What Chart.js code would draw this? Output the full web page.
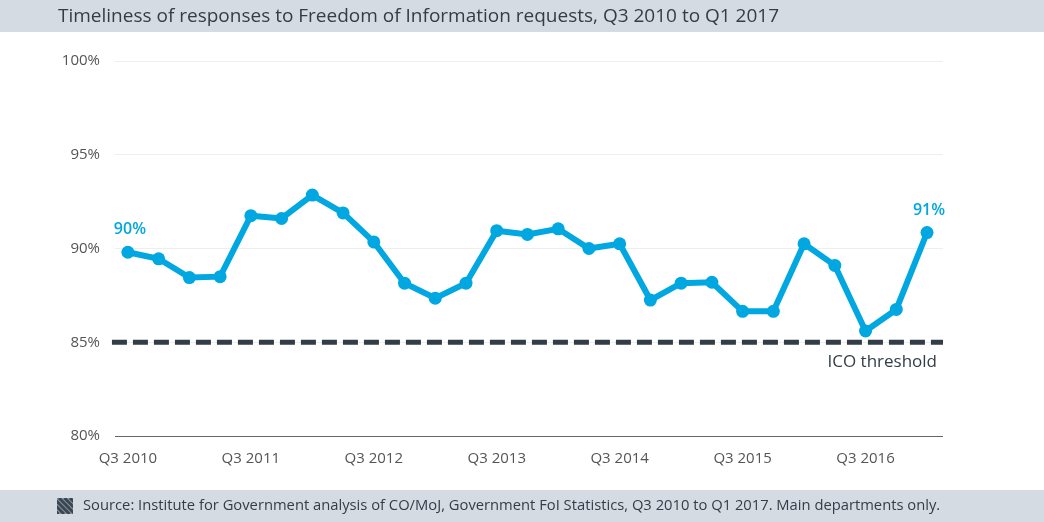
<!DOCTYPE html>
<html>
<head>
<meta charset="utf-8">
<script src="https://cdn.jsdelivr.net/npm/chart.js@4/dist/chart.umd.min.js"></script>
<style>
  html, body { margin: 0; padding: 0; background: #fff; }
  #wrap { width: 1044px; height: 522px; position: relative; }
</style>
</head>
<body>
<div id="wrap"><canvas id="c" width="1044" height="522"></canvas></div>
<script>
const quarters = [
  "Q3 2010","Q4 2010","Q1 2011","Q2 2011",
  "Q3 2011","Q4 2011","Q1 2012","Q2 2012",
  "Q3 2012","Q4 2012","Q1 2013","Q2 2013",
  "Q3 2013","Q4 2013","Q1 2014","Q2 2014",
  "Q3 2014","Q4 2014","Q1 2015","Q2 2015",
  "Q3 2015","Q4 2015","Q1 2016","Q2 2016",
  "Q3 2016","Q4 2016","Q1 2017"
];
const timeliness = [
  89.8, 89.45, 88.45, 88.5,
  91.75, 91.6, 92.85, 91.9,
  90.35, 88.15, 87.35, 88.15,
  90.95, 90.75, 91.05, 90.0,
  90.25, 87.25, 88.15, 88.2,
  86.65, 86.65, 90.25, 89.1,
  85.6, 86.75, 90.85
];
const threshold = 85;
const yTicks = [80, 85, 90, 95, 100];
const titleText = "Timeliness of responses to Freedom of Information requests, Q3 2010 to Q1 2017";
const sourceText = "Source: Institute for Government analysis of CO/MoJ, Government FoI Statistics, Q3 2010 to Q1 2017. Main departments only.";
const thresholdLabel = "ICO threshold";

const BLUE = "#00a7e1";
const DARK = "#333d47";
const BAND = "#d5dbe2";
const FONT = "'Open Sans', sans-serif";

const xMin = -0.42, xMax = quarters.length - 1 + 0.52;

const decor = {
  id: "decor",
  beforeDraw(chart) {
    const ctx = chart.ctx;
    ctx.save();
    ctx.fillStyle = "#fff";
    ctx.fillRect(0, 0, chart.width, chart.height);
    ctx.fillStyle = BAND;
    ctx.fillRect(0, 0, chart.width, 32);
    ctx.fillRect(0, 490, chart.width, 32);
    ctx.restore();
  },
  afterDraw(chart) {
    const ctx = chart.ctx;
    const xs = chart.scales.x, ys = chart.scales.y;
    ctx.save();
    // title
    ctx.fillStyle = DARK;
    ctx.font = "19px " + FONT;
    ctx.textBaseline = "middle";
    ctx.textAlign = "left";
    ctx.fillText(titleText, 58, 16.5);
    // source
    ctx.font = "14.75px " + FONT;
    ctx.fillText(sourceText, 83, 506);
    // icon
    ctx.save();
    ctx.beginPath();
    ctx.rect(57, 498, 16, 16);
    ctx.clip();
    ctx.fillStyle = "#8a96a3";
    ctx.fillRect(57, 498, 16, 16);
    ctx.strokeStyle = "#3a4652";
    ctx.lineWidth = 3;
    for (let k = -20; k < 40; k += 5.5) {
      ctx.beginPath();
      ctx.moveTo(57 + k, 498);
      ctx.lineTo(57 + k + 16, 514);
      ctx.stroke();
    }
    ctx.restore();
    // end labels
    ctx.fillStyle = BLUE;
    ctx.font = "600 16px " + FONT;
    ctx.textAlign = "center";
    const n = timeliness.length;
    ctx.fillText(Math.round(timeliness[0]) + "%", xs.getPixelForValue(0) + 2, ys.getPixelForValue(timeliness[0]) - 23);
    ctx.fillText(Math.round(timeliness[n - 1]) + "%", xs.getPixelForValue(n - 1) + 2, ys.getPixelForValue(timeliness[n - 1]) - 22);
    // threshold label
    ctx.fillStyle = DARK;
    ctx.font = "17px " + FONT;
    ctx.textAlign = "right";
    ctx.fillText(thresholdLabel, chart.chartArea.right - 6, ys.getPixelForValue(threshold) + 20);
    ctx.restore();
  }
};

new Chart(document.getElementById("c"), {
  type: "line",
  data: {
    datasets: [
      {
        label: "ICO threshold",
        data: [{ x: xMin - 0.1, y: threshold }, { x: xMax, y: threshold }],
        borderColor: DARK,
        borderWidth: 5,
        borderDash: [15, 6],
        pointRadius: 0,
        fill: false,
        clip: false,
        order: 2
      },
      {
        label: "Timeliness",
        data: timeliness.map((v, i) => ({ x: i, y: v })),
        borderColor: BLUE,
        backgroundColor: BLUE,
        borderWidth: 6,
        pointRadius: 6.5,
        pointBackgroundColor: BLUE,
        pointBorderWidth: 0,
        tension: 0,
        fill: false,
        clip: false,
        order: 1
      }
    ]
  },
  options: {
    responsive: false,
    animation: false,
    devicePixelRatio: 1,
    layout: { padding: { top: 61, right: 101, left: 0, bottom: 0 } },
    plugins: { legend: { display: false }, tooltip: { enabled: false } },
    scales: {
      x: {
        type: "linear",
        min: xMin,
        max: xMax,
        afterBuildTicks(axis) {
          axis.ticks = quarters.map((q, i) => ({ value: i })).filter((t) => quarters[t.value].startsWith("Q3"));
        },
        afterFit(axis) { axis.height = 86; },
        grid: { display: false, drawTicks: false },
        border: { display: false },
        ticks: {
          padding: 14,
          color: "#555",
          font: { family: FONT, size: 15 },
          maxRotation: 0,
          autoSkip: false,
          callback: (v) => quarters[v]
        }
      },
      y: {
        min: 80,
        max: 100,
        afterBuildTicks(axis) { axis.ticks = yTicks.map((v) => ({ value: v })); },
        afterFit(axis) { axis.width = 115; },
        grid: {
          drawTicks: false,
          color: (c) => (c.tick && c.tick.value === 80 ? "#666" : "#eeeeee"),
          lineWidth: 1
        },
        border: { display: false },
        ticks: {
          padding: 15,
          color: "#555",
          font: { family: FONT, size: 15 },
          callback: (v) => v + "%"
        }
      }
    }
  },
  plugins: [decor]
});
</script>
</body>
</html>
